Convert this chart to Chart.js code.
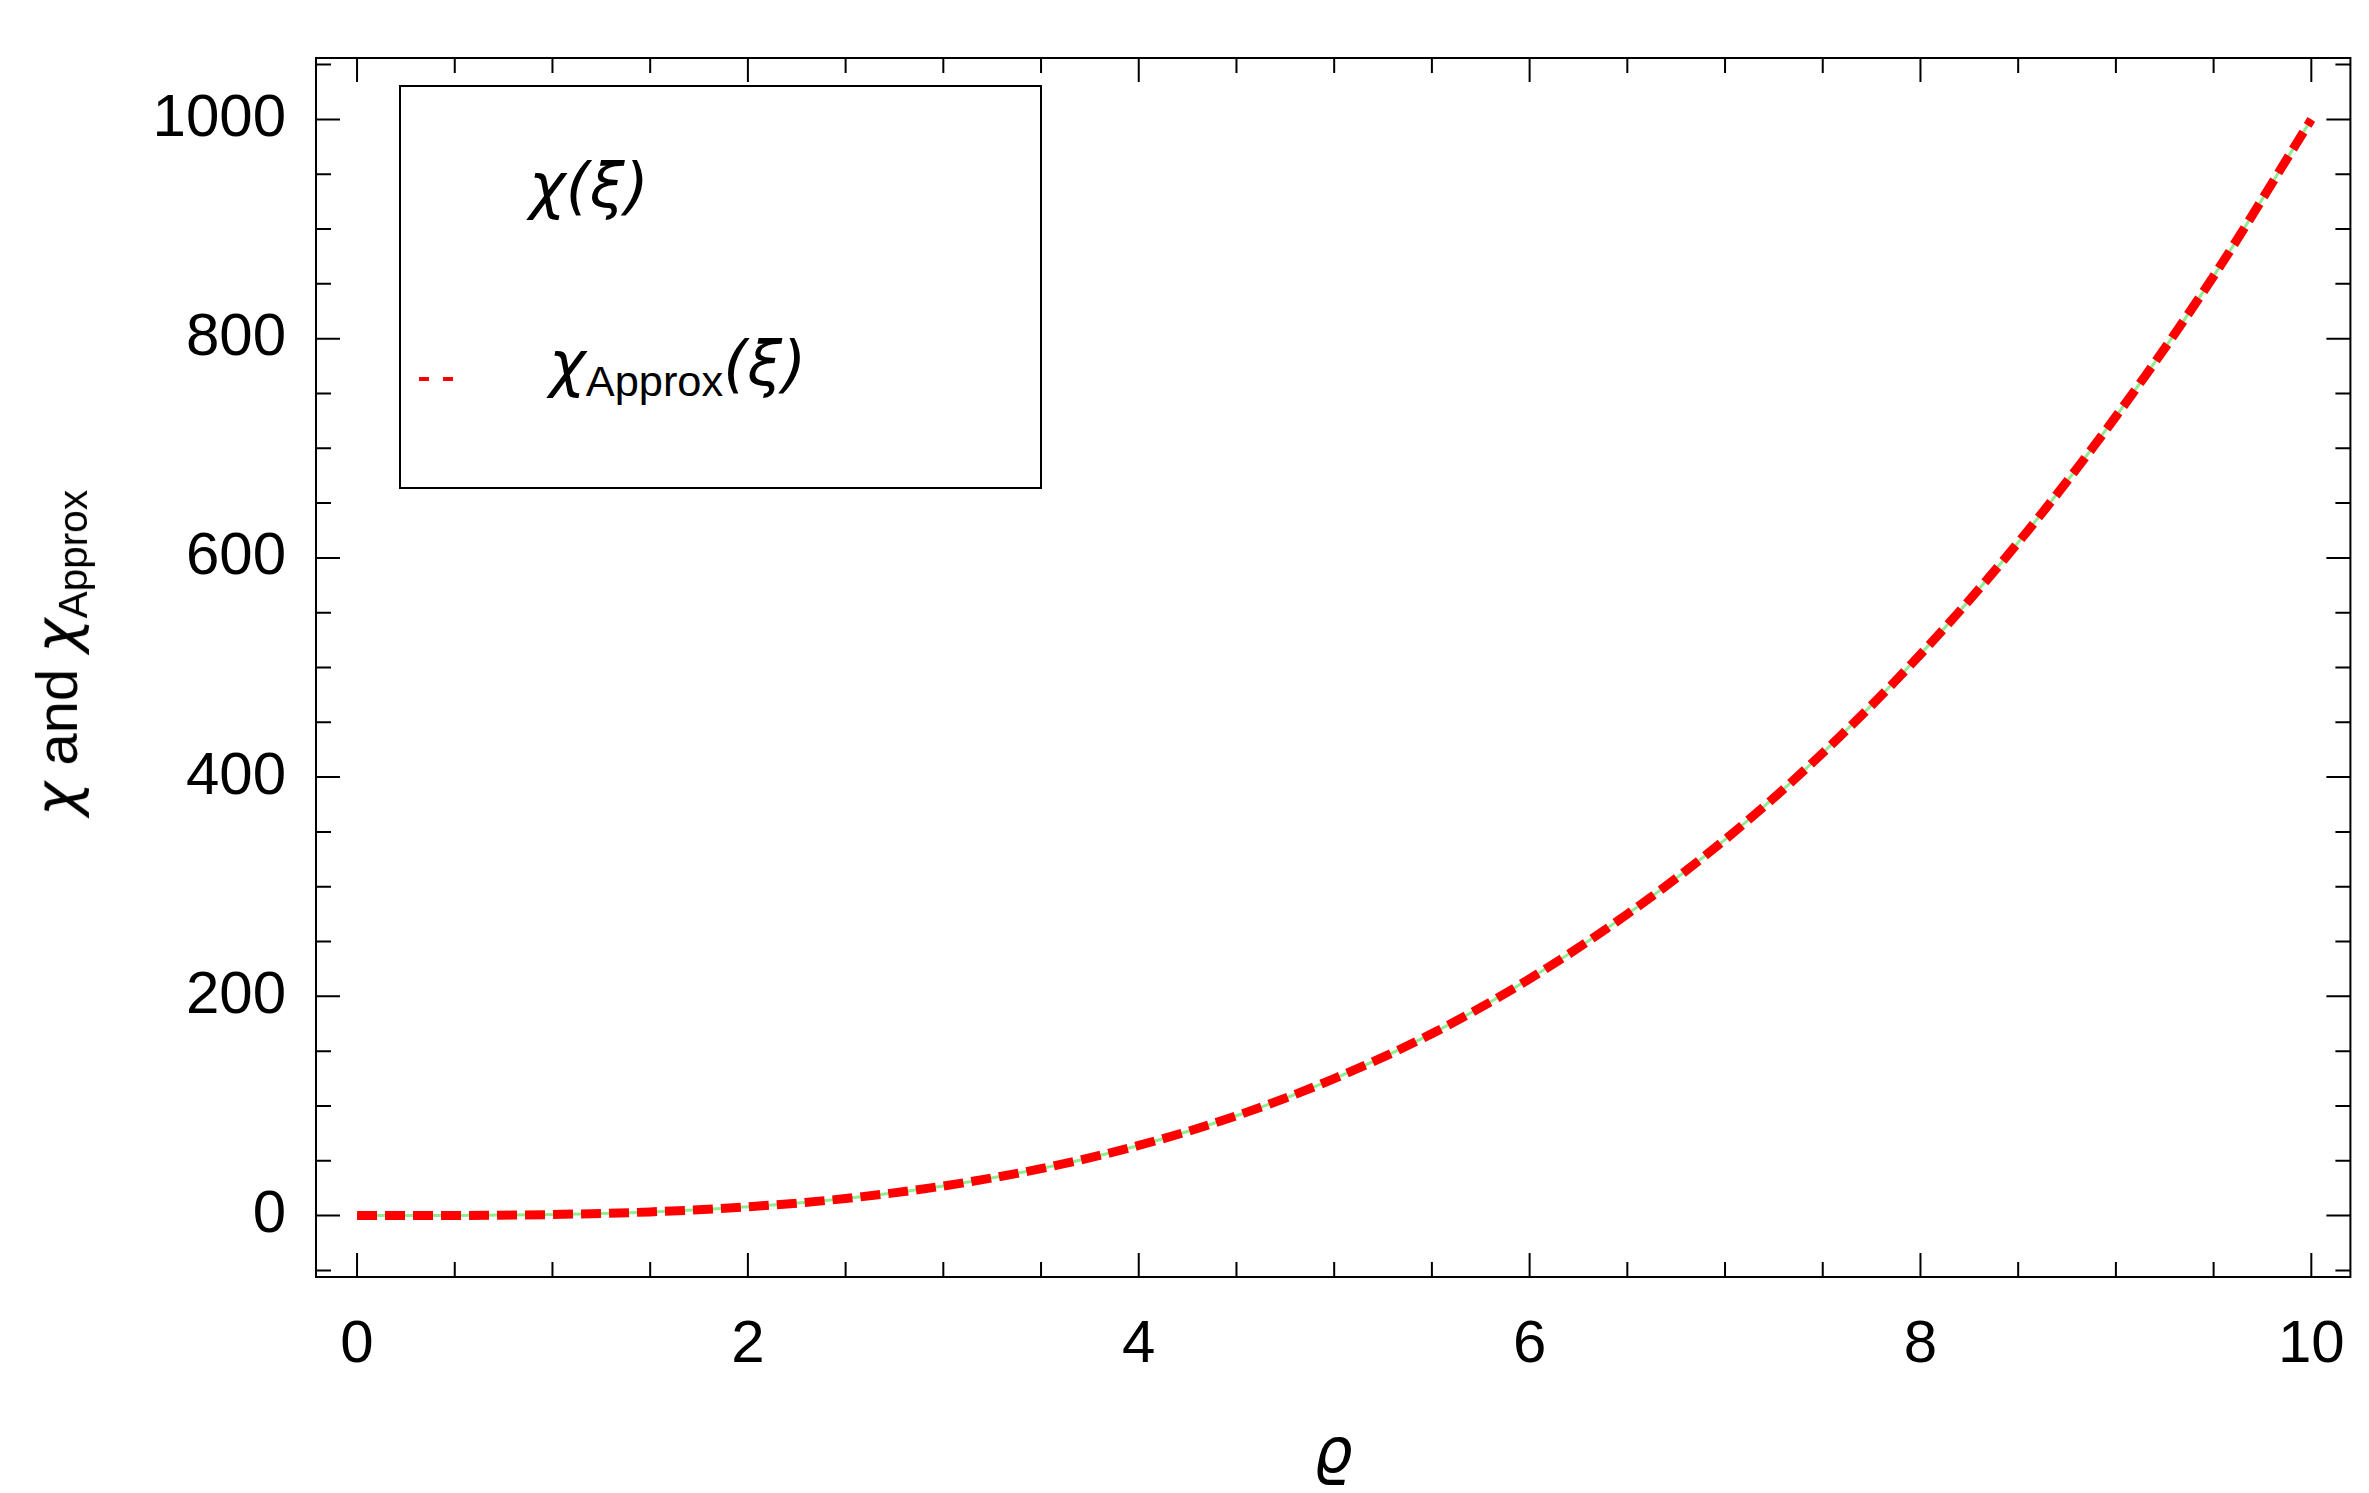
<!DOCTYPE html>
<html>
<head>
<meta charset="utf-8">
<script src="https://cdn.jsdelivr.net/npm/chart.js@4"></script>
<style>
  body { margin: 0; background: #fff; }
  #wrap { position: relative; width: 2369px; height: 1493px; font-family: "Liberation Sans", Arial, sans-serif; }
  canvas { position: absolute; left: 0; top: 0; }
  .lbl { position: absolute; color: #000; white-space: nowrap; }
  .it { font-family: "DejaVu Sans", sans-serif; font-style: italic; }
  sub { font-size: 0.7em; vertical-align: -0.25em; font-family: "Liberation Sans", Arial, sans-serif; font-style: normal; }
  #legend { position: absolute; left: 399px; top: 85px; width: 643px; height: 404px; border: 2px solid #000; box-sizing: border-box; background: #fff; }
</style>
</head>
<body>
<div id="wrap">
  <canvas id="c" width="2369" height="1493"></canvas>
  <div id="legend">
    <div class="lbl it" style="left:128px; top:62px; font-size:62px;">χ(ξ)</div>
    <div style="position:absolute; left:18px; top:290px; width:10px; border-top:4px solid #f00;"></div>
    <div style="position:absolute; left:42px; top:290px; width:10px; border-top:4px solid #f00;"></div>
    <div class="lbl it" style="left:148px; top:240px; font-size:62px;">χ<sub>Approx</sub>(ξ)</div>
  </div>
  <div class="lbl" style="left:60px; top:653px; font-size:58px; transform: translate(-50%,-50%) rotate(-90deg);"><span class="it">χ</span> and <span class="it">χ</span><sub>Approx</sub></div>
  <div class="lbl it" style="left:1333px; top:1450px; font-size:62px; transform: translate(-50%,-50%);">ϱ</div>
</div>
<script>
// data
const xs = [0, 0.5, 1, 1.5, 2, 2.5, 3, 3.5, 4, 4.5, 5, 5.5, 6, 6.5, 7, 7.5, 8, 8.5, 9, 9.5, 10];
const chiExact = [0, 0.1, 1, 3.4, 8, 15.6, 27, 42.9, 64, 91.1, 125, 166, 216, 275, 343, 422, 512, 614, 729, 857, 1000];
const chiApprox = [0, 0.1, 1, 3.4, 8, 15.6, 27, 42.9, 64, 91.1, 125, 166, 216, 275, 343, 422, 512, 614, 729, 857, 1000];
const xTicks = [0, 2, 4, 6, 8, 10];
const yTicks = [0, 200, 400, 600, 800, 1000];

const pts = (ys) => xs.map((x, i) => ({ x: x, y: ys[i] }));

// frame + inward ticks on all four sides
const framePlugin = {
  id: 'frame',
  afterDraw(chart) {
    const ctx = chart.ctx, a = chart.chartArea;
    const sx = chart.scales.x, sy = chart.scales.y;
    ctx.save();
    ctx.strokeStyle = '#000';
    ctx.lineWidth = 2;
    ctx.strokeRect(a.left, a.top, a.right - a.left, a.bottom - a.top);
    ctx.beginPath();
    for (let v = 0; v <= 10.001; v += 0.5) {
      const px = sx.getPixelForValue(v);
      const len = Math.abs(v % 2) < 1e-6 ? 24 : 15;
      ctx.moveTo(px, a.bottom); ctx.lineTo(px, a.bottom - len);
      ctx.moveTo(px, a.top); ctx.lineTo(px, a.top + len);
    }
    for (let v = -50; v <= 1050; v += 50) {
      const py = sy.getPixelForValue(v);
      const len = v % 200 === 0 ? 24 : 15;
      ctx.moveTo(a.left, py); ctx.lineTo(a.left + len, py);
      ctx.moveTo(a.right, py); ctx.lineTo(a.right - len, py);
    }
    ctx.stroke();
    ctx.restore();
  }
};

new Chart(document.getElementById('c'), {
  type: 'scatter',
  data: {
    datasets: [
      { label: 'exact', data: pts(chiExact), showLine: true, borderColor: '#90ee90', borderWidth: 3, pointRadius: 0, cubicInterpolationMode: 'monotone', order: 2 },
      { label: 'approx', data: pts(chiApprox), showLine: true, borderColor: '#ff0000', borderWidth: 9, borderDash: [20, 8], pointRadius: 0, cubicInterpolationMode: 'monotone', order: 1 }
    ]
  },
  options: {
    responsive: false,
    animation: false,
    layout: { autoPadding: false, padding: { top: 20, right: 16, left: 0, bottom: 0 } },
    plugins: { legend: { display: false }, tooltip: { enabled: false } },
    scales: {
      x: {
        type: 'linear', min: -0.21, max: 10.2,
        afterFit(s) { s.height = 216; },
        afterBuildTicks(s) { s.ticks = xTicks.map(v => ({ value: v })); },
        grid: { display: false },
        border: { display: false },
        ticks: { padding: 24, color: '#000', font: { family: 'Liberation Sans', size: 60 }, callback: v => String(v) }
      },
      y: {
        type: 'linear', min: -56, max: 1056,
        afterFit(s) { s.width = 316; },
        afterBuildTicks(s) { s.ticks = yTicks.map(v => ({ value: v })); },
        grid: { display: false },
        border: { display: false },
        ticks: { padding: 22, color: '#000', font: { family: 'Liberation Sans', size: 60 }, callback: v => String(v) }
      }
    }
  },
  plugins: [framePlugin]
});
</script>
</body>
</html>
